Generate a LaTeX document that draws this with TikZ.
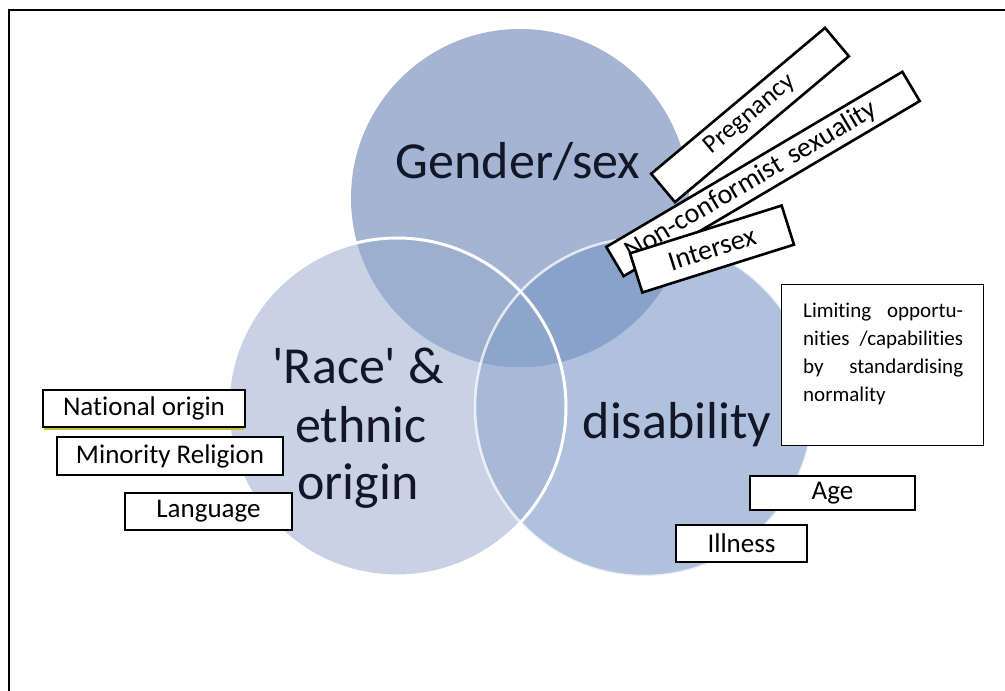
\documentclass[tikz,border=0pt]{standalone}
\usepackage{fontspec}
\setmainfont{Carlito}[Ligatures=NoCommon]
\definecolor{cT}{RGB}{164,181,212}
\definecolor{cL}{RGB}{201,209,228}
\definecolor{cR}{RGB}{176,193,221}
\definecolor{cTL}{RGB}{156,175,207}
\definecolor{cTR}{RGB}{136,162,202}
\definecolor{cLR}{RGB}{168,185,216}
\definecolor{cC}{RGB}{142,165,203}
\definecolor{labelc}{RGB}{18,22,38}
\definecolor{uline}{RGB}{200,190,40}
\begin{document}
\begin{tikzpicture}[x=1pt,y=-1pt,
  lbl/.style={font=\fontsize{52}{59}\selectfont, text=labelc, align=center, inner sep=0pt},
  tagbox/.style={draw, line width=2.6pt, fill=white, inner sep=0pt, font=\fontsize{27}{30}\selectfont},
]
\useasboundingbox (0,0) rectangle (1005,691);
% frame
\draw[line width=2pt] (9,691) -- (9,10) -- (1005,10);
% circles
\coordinate (T) at (520,198);
\coordinate (L) at (397,407);
\coordinate (R) at (644,407);
\def\rr{169pt}
\fill[cT] (T) circle[radius=\rr];
\fill[cL] (L) circle[radius=\rr];
\fill[cR] (R) circle[radius=\rr];
\begin{scope}
  \clip (L) circle[radius=\rr];
  \fill[cLR] (R) circle[radius=\rr];
\end{scope}
\begin{scope}
  \clip (T) circle[radius=\rr];
  \fill[cTL] (L) circle[radius=\rr];
  \fill[cTR] (R) circle[radius=\rr];
  \clip (L) circle[radius=\rr];
  \fill[cC] (R) circle[radius=\rr];
\end{scope}
\draw[white, line width=3pt] (L) circle[radius=\rr];
\draw[white, line width=2.5pt, opacity=0.75] (R) circle[radius=\rr];
% main labels
\node[lbl, anchor=base] (gender) at (518,178) {Gender/sex};
\node[lbl, anchor=base] (race) at (358,383) {\textquotesingle Race\textquotesingle\ \&};
\node[lbl, anchor=base] (ethnic) at (361,442) {ethnic};
\node[lbl, anchor=base] (origin) at (358,499) {origin};
\node[lbl, anchor=base] (disab) at (677,438) {disability};
% left tags
\node[tagbox, line width=1.8pt, minimum width=202pt, minimum height=37pt] (natorig) at (144,408.5) {National origin};
\draw[uline, line width=1.5pt] ([xshift=2pt,yshift=-1pt]natorig.south west) -- ([xshift=-2pt,yshift=-1pt]natorig.south east);
\node[tagbox, minimum width=226pt, minimum height=38pt] (minrel) at (170,456) {Minority Religion};
\node[tagbox, minimum width=167pt, minimum height=37pt] (lang) at (208.5,511.5) {Language};
% right tags
\node[draw, line width=1pt, fill=white, minimum width=202pt, minimum height=161pt, inner sep=0pt] (limit) at (882,364.5) {};
\node[anchor=north west, inner sep=0pt, align=left, font=\fontsize{21}{28}\selectfont] (limtext) at (803,303)
  {\makebox[160pt][s]{Limiting opportu-}\\ \makebox[160pt][s]{nities /capabilities}\\ \makebox[160pt][s]{by standardising}\\ normality};
\node[tagbox, minimum width=165pt, minimum height=34pt] (age) at (832.5,493) {Age};
\node[tagbox, minimum width=131pt, minimum height=37pt] (illness) at (741.5,543.5) {Illness};
% rotated tags
\node[tagbox, font=\fontsize{26}{30}\selectfont, rotate=40, minimum width=227pt, minimum height=37pt] (preg) at (750,115) {Pregnancy};
\node[tagbox, font=\fontsize{28}{30}\selectfont, rotate=30.6, minimum width=344pt, minimum height=34pt, text width=314pt, align=left, inner xsep=15pt] (nonconf) at (763,174) {Non-conformist sexuality};
\node[tagbox, font=\fontsize{28}{30}\selectfont, rotate=17.5, minimum width=159pt, minimum height=41pt] (intersex) at (712,249) {Intersex};
\end{tikzpicture}
\end{document}
